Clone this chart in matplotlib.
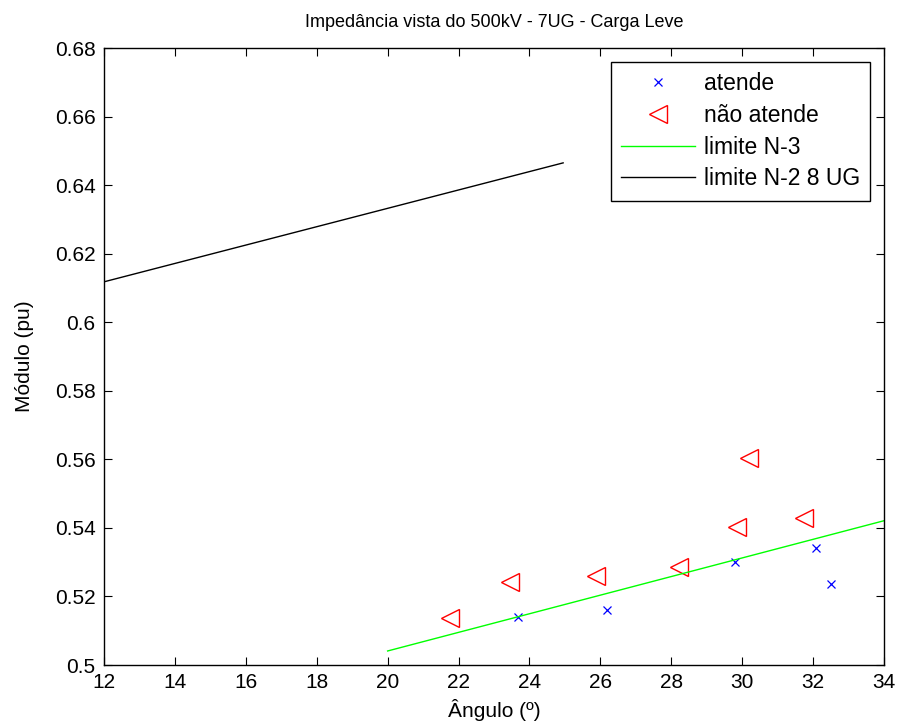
import matplotlib
matplotlib.use("Agg")
import matplotlib.pyplot as plt
from matplotlib.ticker import FuncFormatter

# data
atende_ang = [23.69, 26.18, 29.80, 32.08, 32.50]
atende_mod = [0.5141, 0.5160, 0.5301, 0.5340, 0.5235]

nao_ang = [21.76, 23.45, 25.89, 28.22, 29.85, 30.19, 31.75]
nao_mod = [0.5136, 0.5241, 0.5261, 0.5287, 0.5403, 0.5604, 0.5430]

n3_ang = [20, 34]
n3_mod = [0.5041, 0.5421]

n2_ang = [12, 24.95]
n2_mod = [0.6118, 0.6465]

plt.rcParams['font.family'] = ['Liberation Sans', 'DejaVu Sans']

fig = plt.figure(figsize=(8.99, 7.28), dpi=100)
ax = fig.add_axes([0.1157, 0.0865, 0.8676, 0.8475])

ax.plot(atende_ang, atende_mod, 'x', color='blue', markersize=6, markeredgewidth=0.9, label='atende')
ax.plot(nao_ang, nao_mod, '<', color='red', markerfacecolor='none', markersize=13,
        markeredgewidth=1.0, label='não atende')
ax.plot(n3_ang, n3_mod, '-', color='#00ff00', linewidth=1.0, label='limite N-3')
ax.plot(n2_ang, n2_mod, '-', color='black', linewidth=1.0, label='limite N-2 8 UG')

ax.set_xlim(12, 34)
ax.set_ylim(0.5, 0.68)
ax.set_xticks(range(12, 35, 2))
ax.set_yticks([0.5 + 0.02 * i for i in range(10)])
ax.yaxis.set_major_formatter(FuncFormatter(lambda v, p: '%g' % round(v, 2)))
ax.tick_params(direction='in', length=6, top=True, right=True, labelsize=15, width=0.8)
ax.tick_params(axis='y', pad=6)
ax.tick_params(axis='x', pad=6)
for s in ax.spines.values():
    s.set_linewidth(1.0)

ax.set_title('Impedância vista do 500kV - 7UG - Carga Leve', fontsize=13, pad=15)
ax.set_xlabel('Ângulo (º)', fontsize=15, labelpad=5)
ax.set_ylabel('Módulo (pu)', fontsize=15, labelpad=15)

leg = ax.legend(loc='upper right', fontsize=16.5, fancybox=False, framealpha=1,
                edgecolor='black', handlelength=3.2, borderaxespad=0.6,
                labelspacing=0.38, handletextpad=0.4, borderpad=0.45)
leg.get_frame().set_linewidth(1.0)

fig.savefig('out.png', dpi=100)
